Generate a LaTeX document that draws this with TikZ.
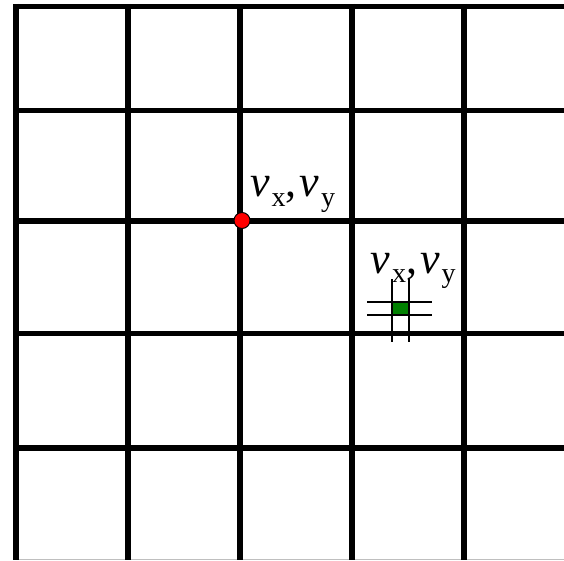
\documentclass[tikz,border=0pt]{standalone}
\usepackage{fontspec}
\setmainfont{Liberation Serif}
\definecolor{dotred}{RGB}{255,0,0}
\definecolor{sqgreen}{RGB}{0,128,0}
\newcommand\vlab{{\fontsize{44}{44}\selectfont\textit{v}\hspace{2pt}\raisebox{-9.5pt}{\fontsize{28}{28}\selectfont x},\hspace{3pt}\textit{v}\hspace{2pt}\raisebox{-9.5pt}{\fontsize{28}{28}\selectfont y}}}
\begin{document}
\begin{tikzpicture}[x=1pt,y=-1pt,
  gridline/.style={line width=5.5pt,black},
  thinline/.style={line width=2pt,black},
  lab/.style={anchor=base west,inner sep=0pt,outer sep=0pt}]
\useasboundingbox (0,0) rectangle (564,561);
% faint bottom edge
\draw[gray!50,line width=1pt] (18,559.5) -- (564,559.5);
% grid
\foreach \x in {16,128,240,352,464}
  \draw[gridline] (\x,4) -- (\x,560);
\foreach \y in {6.5,110.5,221,333.5,448}
  \draw[gridline] (13.5,\y) -- (564,\y);
% small marker with crosshair
\fill[sqgreen] (393,302) rectangle (408.5,315);
\draw[thinline] (392.3,279) -- (392.3,342);
\draw[thinline] (408.7,279) -- (408.7,342);
\draw[thinline] (367,301.7) -- (431.7,301.7);
\draw[thinline] (367,315) -- (431.7,315);
% red dot
\node[circle,fill=dotred,draw=black,line width=1pt,minimum size=16pt,inner sep=0pt] (dot) at (242,220.5) {};
% labels
\node[lab] (l1) at (250,196.7) {\vlab};
\node[lab] (l2) at (370.5,273.3) {\vlab};
\end{tikzpicture}
\end{document}
